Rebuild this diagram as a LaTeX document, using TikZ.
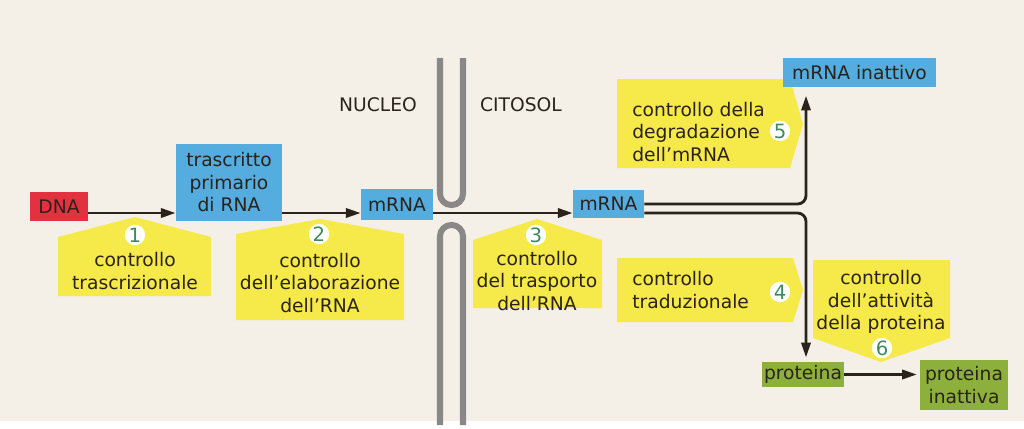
\documentclass[tikz,border=0pt]{standalone}
\usepackage{fontspec}
\setmainfont{DejaVu Sans}
\usepackage{tikz}
\usetikzlibrary{arrows.meta}
\definecolor{paper}{HTML}{F4EFE7}
\definecolor{ink}{HTML}{2A231C}
\definecolor{dnared}{HTML}{E2323F}
\definecolor{rnablue}{HTML}{55ACDF}
\definecolor{protgreen}{HTML}{8DB03C}
\definecolor{panelyellow}{HTML}{F6E94A}
\definecolor{numgreen}{HTML}{3F8A5E}
\definecolor{membranegray}{HTML}{8A8886}
\tikzset{
    gene-box/.style = {rectangle, inner sep=0pt, align=center, text=ink, font=\fontsize{13.3}{16}\selectfont},
    dna-box/.style = {gene-box, fill=dnared},
    rna-box/.style = {gene-box, fill=rnablue},
    prot-box/.style = {gene-box, fill=protgreen},
    panel/.style = {fill=panelyellow},
    panel-text/.style = {inner sep=0pt, text=ink, font=\fontsize{13.3}{15.8}\selectfont},
    num-disc/.style = {circle, fill=white, inner sep=0pt, minimum size=14.5pt, text=numgreen, font=\fontsize{14}{14}\selectfont},
    flow/.style = {draw=ink, line width=2pt, -{Triangle[length=10.5pt,width=6.5pt]}},
    membrane/.style = {draw=membranegray, line width=4.3pt, rounded corners=8pt},
}
\begin{document}
\begin{tikzpicture}[x=0.025cm, y=-0.025cm]
\fill[paper] (0,0) rectangle (1024,421);

% nuclear envelope
\draw[membrane] (440,58) -- (440,205) -- (463,205) -- (463,58);
\draw[membrane] (440,425) -- (440,225) -- (463,225) -- (463,425);
\node[panel-text] (nucleo) at (378,105) {NUCLEO};
\node[panel-text] (citosol) at (521,105) {CITOSOL};

% yellow control panels
\fill[panel] (58,237) -- (135,217) -- (211,237) -- (211,296) -- (58,296) -- cycle;
\fill[panel] (236,234) -- (320,219) -- (404,234) -- (404,320) -- (236,320) -- cycle;
\fill[panel] (473,240) -- (537,219) -- (602,240) -- (602,308) -- (473,308) -- cycle;
\fill[panel] (617,258) -- (793,258) -- (803,290) -- (793,322) -- (617,322) -- cycle;
\fill[panel] (617,79) -- (790,79) -- (803,124) -- (790,168) -- (617,168) -- cycle;
\fill[panel] (813,260) -- (950,260) -- (950,338) -- (881,362) -- (813,338) -- cycle;

\node[panel-text, align=center] (ctrl-1) at (135,271) {controllo\\trascrizionale};
\node[panel-text, align=center] (ctrl-2) at (320,283) {controllo\\dell’elaborazione\\dell’RNA};
\node[panel-text, align=center] (ctrl-3) at (537,281) {controllo\\del trasporto\\dell’RNA};
\node[panel-text, align=left, anchor=west] (ctrl-4) at (632,290) {controllo\\traduzionale};
\node[panel-text, align=left, anchor=west] (ctrl-5) at (632,132) {controllo della\\degradazione\\dell’mRNA};
\node[panel-text, align=center] (ctrl-6) at (881,302) {controllo\\dell’attività\\della proteina};

\node[num-disc] (num-1) at (135,235) {1};
\node[num-disc] (num-2) at (319,234) {2};
\node[num-disc] (num-3) at (536,235) {3};
\node[num-disc] (num-4) at (780,292) {4};
\node[num-disc] (num-5) at (780,131) {5};
\node[num-disc] (num-6) at (882,348) {6};

% molecules
\node[dna-box, minimum width=41.3pt, minimum height=20.6pt] (dna) at (59,206.5) {DNA};
\node[rna-box, minimum width=75.4pt, minimum height=54.8pt] (trascritto) at (229,182.5) {trascritto\\primario\\di RNA};
\node[rna-box, minimum width=51.2pt, minimum height=22pt] (mrna-nucleo) at (397,204.5) {mRNA};
\node[rna-box, minimum width=50.5pt, minimum height=20.6pt] (mrna-cito) at (608.5,204) {mRNA};
\node[rna-box, minimum width=108.8pt, minimum height=20.6pt] (mrna-inattivo) at (859.5,72.5) {mRNA inattivo};
\node[prot-box, minimum width=58pt, minimum height=17.8pt] (proteina) at (803,374.5) {proteina};
\node[prot-box, minimum width=62.6pt, minimum height=35.6pt] (proteina-inattiva) at (964,385) {proteina\\inattiva};

\coordinate (main-line) at (0,213);
\coordinate (split) at (806,213);

% flow of gene expression
\draw[flow] (dna.east |- main-line) -- (trascritto.west |- main-line);
\draw[flow] (trascritto.east |- main-line) -- (mrna-nucleo.west |- main-line);
\draw[flow] (mrna-nucleo.east |- main-line) -- (mrna-cito.west |- main-line);
\draw[flow, rounded corners=6pt] (mrna-cito.east) -| ([yshift=-6pt]split |- mrna-inattivo.south);
\draw[flow, rounded corners=6pt] (mrna-cito.east |- main-line) -| ([yshift=3pt]split |- proteina.north);
\draw[flow, shorten >=2pt] (proteina.east) -- (proteina-inattiva.west |- proteina.east);
\end{tikzpicture}
\end{document}
